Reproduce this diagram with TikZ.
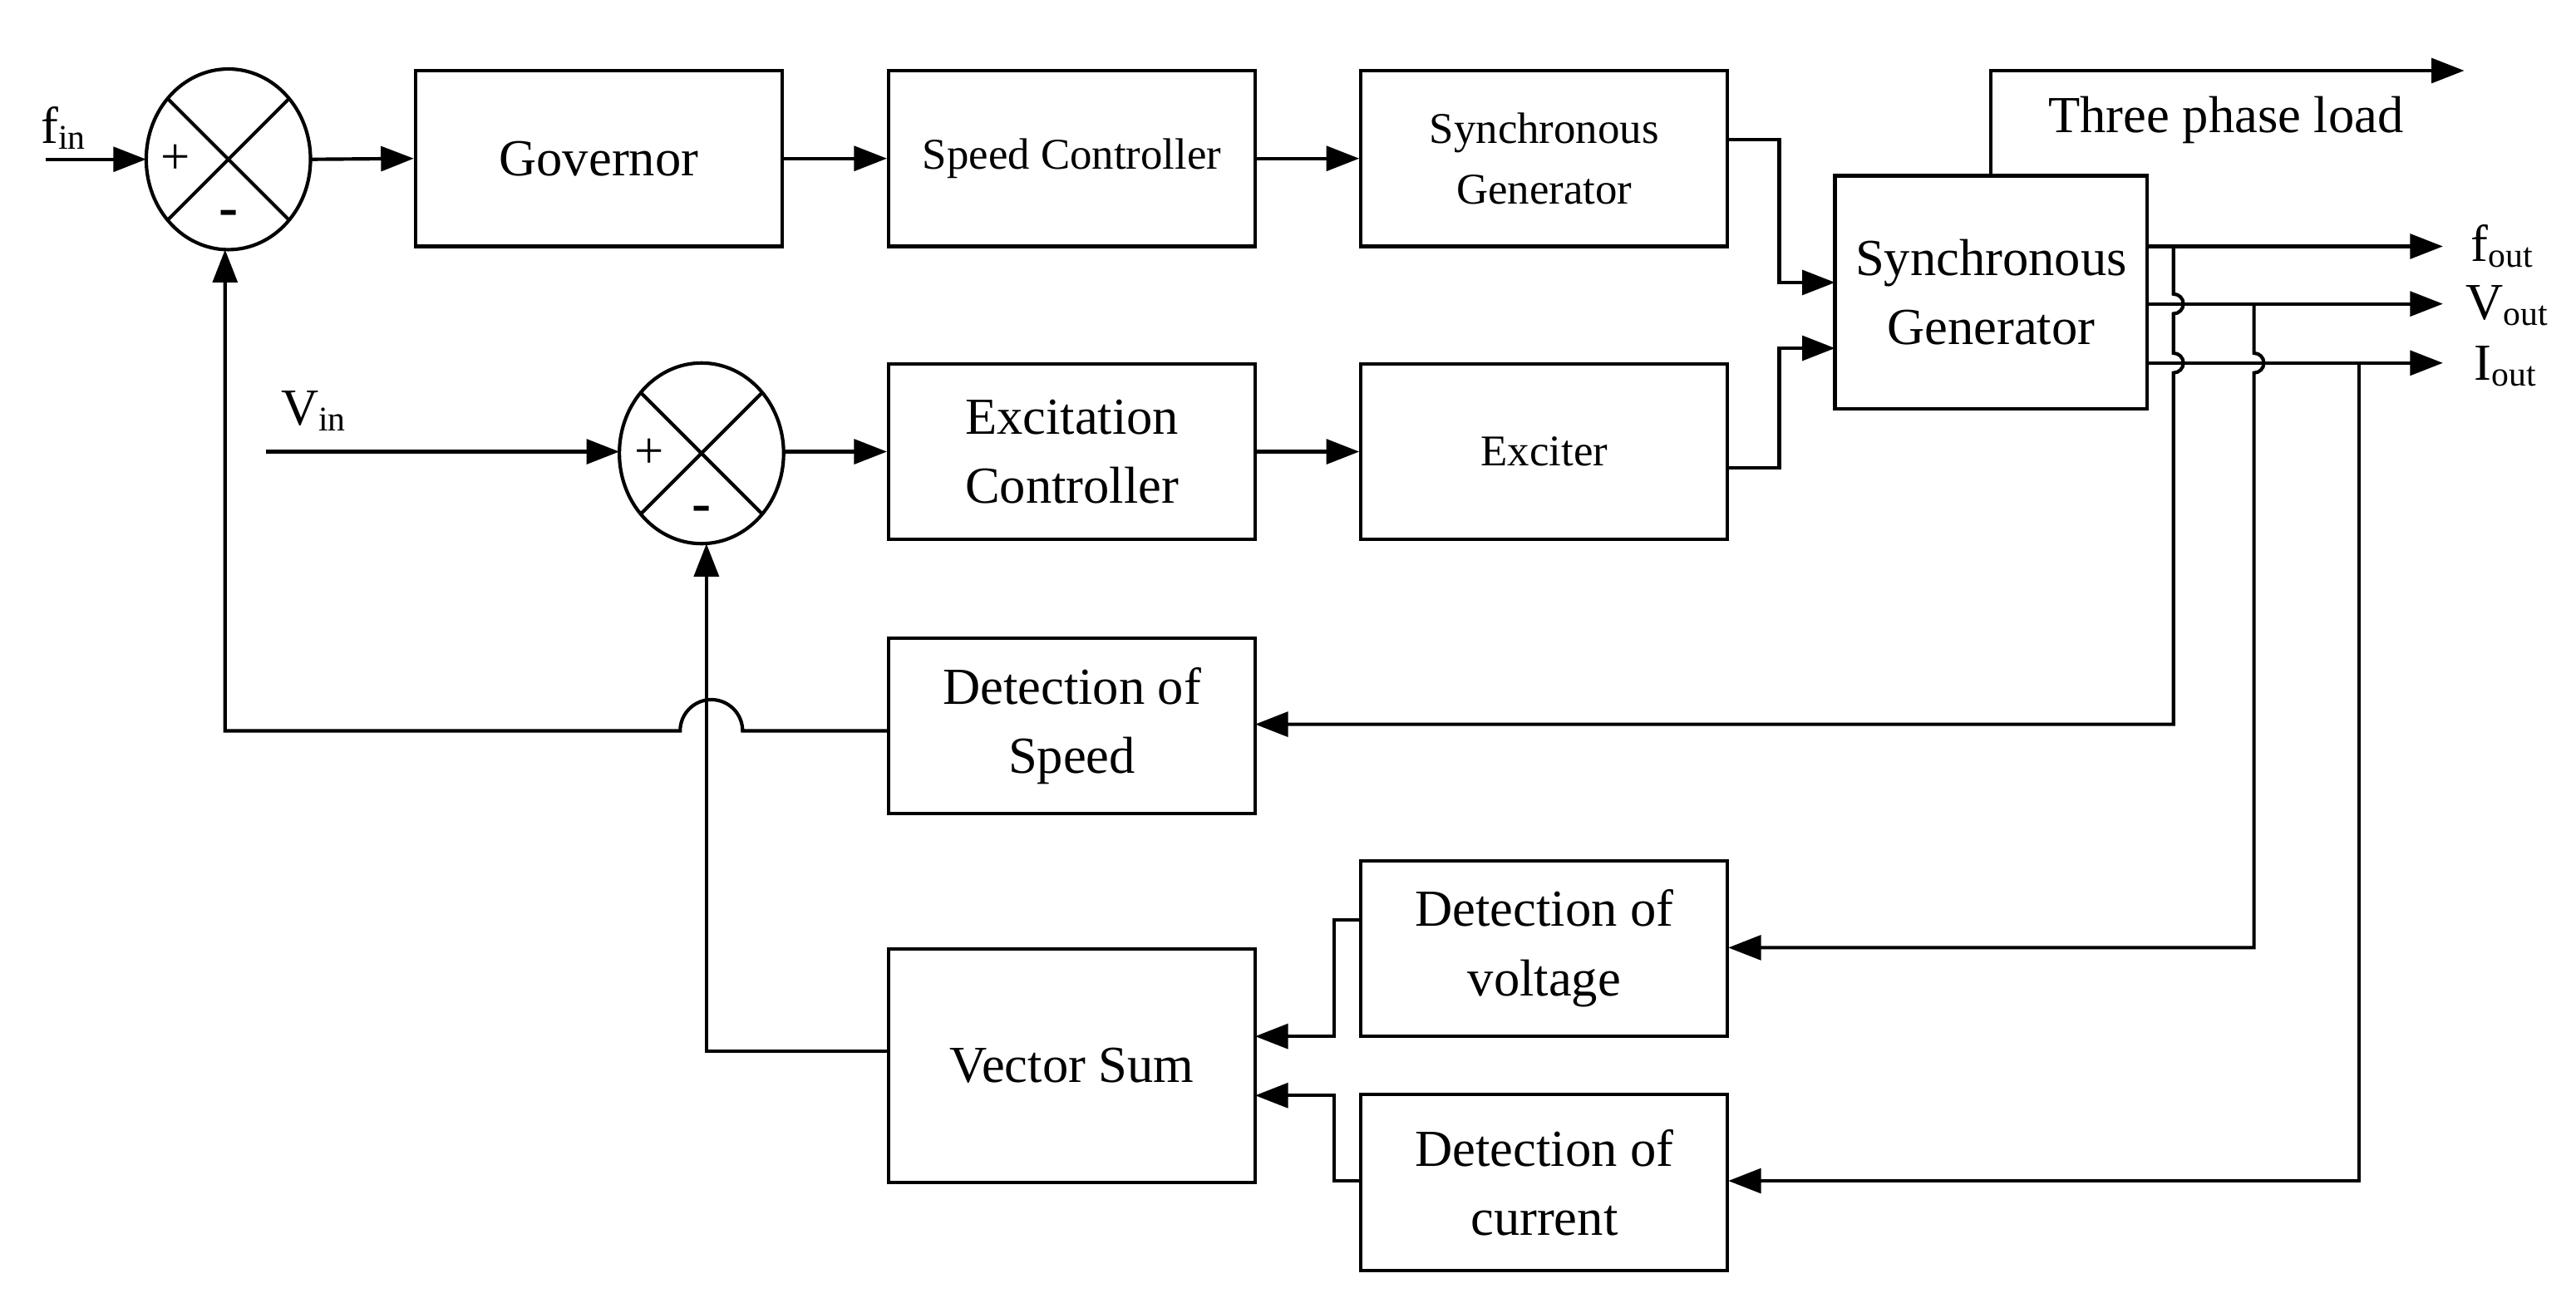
\documentclass[tikz,border=0pt]{standalone}
\usepackage{fontspec}
\setmainfont{Liberation Serif}
\usetikzlibrary{arrows.meta}
\begin{document}
\begin{tikzpicture}[x=0.01cm,y=0.01cm,line width=0.6pt,
 box/.style={draw,minimum width=2.23cm,minimum height=1.07cm,align=center,inner sep=1pt,font=\fontsize{9}{12}\selectfont},
 sbox/.style={box,font=\fontsize{7.6}{10.5}\selectfont},
 sumn/.style={draw,ellipse,minimum width=1cm,minimum height=1.1cm},
 ar/.style={-{Triangle[length=0.2cm,width=0.15cm]}},
 lab/.style={font=\fontsize{9}{11}\selectfont,inner sep=0}]
\useasboundingbox (0,0) rectangle (1568,-787);
% sums
\draw (139,-97) ellipse [x radius=50,y radius=55];
\node[inner sep=0] (s1) at (139,-97) {};
\draw (139,-97) ++(45:52) -- ++(225:104) (139,-97) ++(135:52) -- ++(-45:104);
\node[lab] at (107,-97) {+};
\node[lab,font=\fontsize{10}{11}\selectfont\bfseries] at (139,-133) {-};
\draw (427,-276) ellipse [x radius=50,y radius=55];
\node[inner sep=0] (s2) at (427,-276) {};
\draw (427,-276) ++(45:52) -- ++(225:104) (427,-276) ++(135:52) -- ++(-45:104);
\node[lab] at (395,-276) {+};
\node[lab,font=\fontsize{10}{11}\selectfont\bfseries] at (427,-313) {-};
% boxes
\node[box] (gov) at (364.5,-96.5) {Governor};
\node[sbox] (spc) at (652.5,-96.5) {Speed Controller};
\node[sbox] (sg1) at (940,-96.5) {Synchronous\\Generator};
\node[box,minimum width=1.9cm,minimum height=1.42cm] (sg) at (1212,-178) {Synchronous\\Generator};
\node[box] (exc) at (652.5,-275) {Excitation\\Controller};
\node[sbox] (ex) at (940,-275) {Exciter};
\node[box] (ds) at (652.5,-442) {Detection of\\Speed};
\node[box] (dv) at (940,-577.5) {Detection of\\voltage};
\node[box] (dc) at (940,-720) {Detection of\\current};
\node[box,minimum height=1.42cm] (vs) at (652.5,-649) {Vector Sum};
% labels
\node[lab,anchor=west] (fin) at (24,-78) {f\textsubscript{in}};
\node[lab,anchor=west] (vin) at (170,-250) {V\textsubscript{in}};
\node[lab] (tpl) at (1355,-73) {Three phase load};
\node[lab,anchor=west] (fo) at (1503,-150) {f\textsubscript{out}};
\node[lab,anchor=west] (vo) at (1500,-186) {V\textsubscript{out}};
\node[lab,anchor=west] (io) at (1505,-223) {I\textsubscript{out}};
% forward path
\draw[ar] (28,-97) -- (89,-97);
\draw[ar] (189,-97) -- (gov.west);
\draw[ar] (gov.east) -- (spc.west);
\draw[ar] (spc.east) -- (sg1.west);
\draw[ar] (162,-275) -- (377,-275);
\draw[ar] (477,-275) -- (exc.west);
\draw[ar] (exc.east) -- (ex.west);
\draw[ar] (1052,-85) -- (1083,-85) -- (1083,-172) -- (1117,-172);
\draw[ar] (1052,-285) -- (1083,-285) -- (1083,-212) -- (1117,-212);
\draw[ar] (1212,-107) -- (1212,-43) -- (1500,-43);
\draw[ar] (1307,-150) -- (1487,-150);
\draw[ar] (1307,-185) -- (1487,-185);
\draw[ar] (1307,-221) -- (1487,-221);
% taps
\draw[ar] (1323,-150) -- (1323,-179) arc[start angle=90,end angle=-90,radius=6] -- (1323,-215) arc[start angle=90,end angle=-90,radius=6] -- (1323,-441) -- (764,-441);
\draw[ar] (1372,-185) -- (1372,-215) arc[start angle=90,end angle=-90,radius=6] -- (1372,-577) -- (1052,-577);
\draw[ar] (1436,-221) -- (1436,-719) -- (1052,-719);
\draw[ar] (828,-560) -- (812,-560) -- (812,-631) -- (764,-631);
\draw[ar] (828,-719) -- (812,-719) -- (812,-667) -- (764,-667);
% feedback
\draw[ar] (541,-640) -- (430,-640) -- (430,-331);
\draw[ar] (541,-445) -- (452,-445) arc[start angle=0,end angle=180,radius=19] -- (137,-445) -- (137,-152);
\end{tikzpicture}
\end{document}
